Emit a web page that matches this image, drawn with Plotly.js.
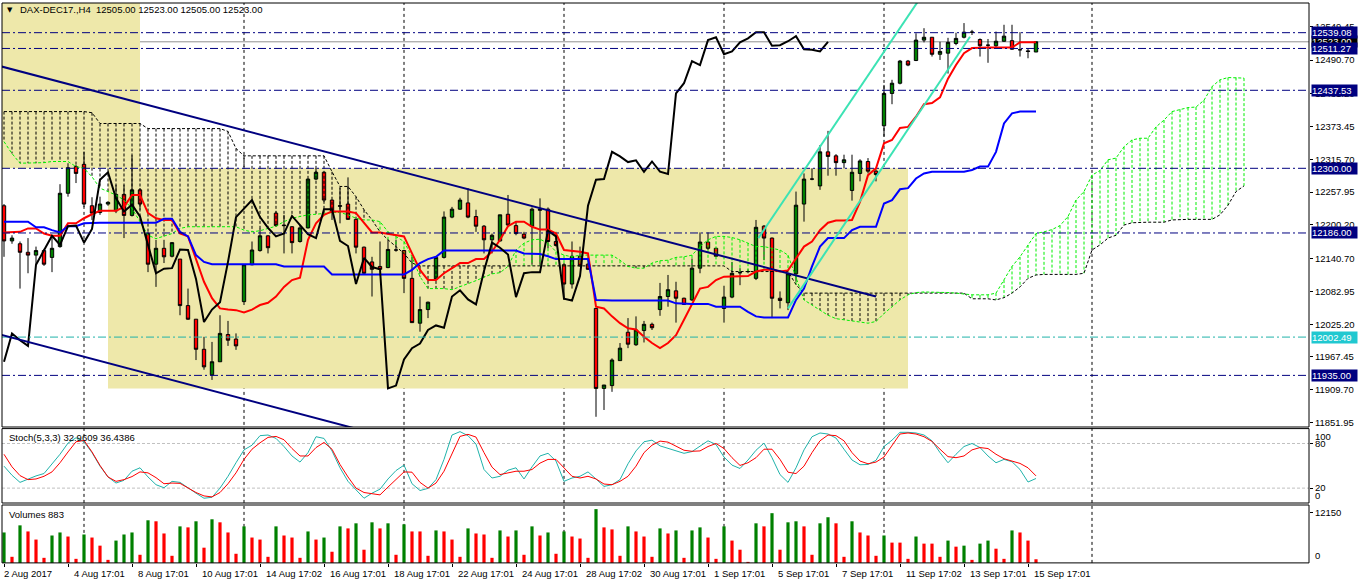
<!DOCTYPE html>
<html><head><meta charset="utf-8">
<script src="https://cdn.plot.ly/plotly-3.0.1.min.js"></script>
<style>html,body{margin:0;padding:0;background:#fff;overflow:hidden}#chart{width:1358px;height:584px}</style>
</head><body><div id="chart"></div>
<script>
// ---------- DATA ----------
const symbolTitle = "DAX-DEC17.,H4\u00a0\u00a012505.00 12523.00 12505.00 12523.00";
const stochTitle = "Stoch(5,3,3) 32.9609 36.4386";
const volumeTitle = "Volumes 883";

const opens = [12234,12172,12167,12152,12147,12155,12143,12162,12256,12303,
12307,12234,12222,12237,12225,12254,12217,12262,12185,12131,
12159,12145,12140,12058,12034,11981,11936,11959,12007,11999,
12065,12130,12155,12181,12221,12200,12197,12171,12195,12281,
12293,12244,12233,12237,12210,12161,12135,12127,12125,12156,
12155,12106,12027,12051,12105,12143,12214,12228,12239,12215,
12198,12174,12172,12219,12199,12184,12198,12226,12228,12171,
12130,12096,12145,12131,12053,11912,11917,11961,12011,11989,
12014,12025,12051,12074,12084,12071,12068,12124,12170,12159,
12053,12073,12116,12118,12106,12198,12177,12071,12063,12114,
12237,12281,12269,12329,12322,12310,12261,12291,12312,12295,
12375,12432,12450,12489,12490,12526,12531,12501,12503,12520,
12531,12540,12527,12517,12516,12524,12525,12509,12507,12505];
const highs = [12237,12182,12171,12177,12162,12158,12180,12272,12309,12306,
12329,12249,12250,12242,12271,12271,12323,12265,12188,12174,
12174,12170,12140,12088,12034,12003,11994,12041,12031,12009,
12130,12171,12194,12182,12224,12218,12198,12200,12282,12300,
12294,12245,12265,12284,12212,12162,12144,12171,12174,12174,
12156,12144,12074,12065,12144,12224,12232,12248,12265,12227,
12200,12185,12218,12253,12206,12188,12231,12247,12231,12188,
12133,12171,12162,12133,12053,11918,11965,11992,12036,12039,
12031,12028,12098,12112,12100,12072,12141,12187,12187,12160,
12093,12135,12124,12122,12209,12200,12178,12083,12116,12259,
12291,12300,12341,12366,12325,12324,12324,12316,12318,12298,
12447,12456,12491,12491,12538,12547,12531,12523,12530,12539,
12556,12544,12529,12528,12541,12553,12553,12540,12512,12523];
const lows = [12144,12167,12088,12115,12130,12128,12117,12160,12250,12274,
12232,12209,12218,12234,12221,12177,12215,12227,12117,12091,
12133,12143,12041,12033,11962,11945,11927,11959,11987,11980,
12059,12129,12153,12150,12197,12150,12150,12169,12194,12279,
12241,12209,12203,12209,12150,12114,12074,12121,12124,12153,
12080,12028,12012,12036,12103,12141,12212,12227,12212,12188,
12150,12150,12171,12197,12182,12175,12130,12130,12159,12162,
12068,12088,12127,12121,11862,11874,11906,11961,11983,11987,
11993,12015,12040,12056,12028,12059,12066,12115,12156,12144,
12028,12071,12094,12115,12103,12138,12036,12053,12050,12100,
12206,12279,12262,12287,12287,12300,12243,12277,12291,12277,
12356,12413,12448,12480,12489,12522,12497,12491,12467,12517,
12529,12535,12497,12486,12514,12523,12509,12497,12494,12505];
const closes = [12172,12177,12152,12147,12155,12131,12159,12256,12301,12291,
12237,12221,12237,12240,12254,12217,12262,12237,12131,12159,
12144,12169,12058,12034,11981,11950,11959,12009,11997,11987,
12130,12156,12181,12160,12199,12199,12169,12195,12281,12293,
12244,12222,12234,12210,12161,12115,12122,12122,12157,12156,
12106,12028,12051,12064,12143,12214,12228,12244,12214,12198,
12174,12182,12218,12200,12185,12177,12228,12228,12171,12164,
12096,12145,12128,12122,11912,11918,11962,11983,11990,12015,
12025,12019,12074,12086,12071,12060,12124,12170,12159,12145,
12073,12115,12116,12118,12196,12177,12071,12067,12114,12235,
12281,12281,12329,12321,12310,12315,12293,12313,12295,12289,
12432,12450,12489,12482,12526,12531,12501,12506,12522,12529,
12540,12540,12516,12517,12524,12533,12510,12509,12506,12523];

const tenkan = [12187,12188,12188,12194,12194,12185,12181,12181,12203,12203,
12212,12219,12225,12225,12225,12232,12253,12253,12221,12212,
12209,12209,12185,12180,12138,12100,12071,12053,12051,12050,
12046,12051,12059,12063,12074,12091,12103,12107,12174,12203,
12218,12224,12224,12224,12221,12203,12187,12187,12185,12182,
12180,12150,12121,12103,12103,12115,12124,12133,12133,12140,
12140,12153,12174,12198,12206,12206,12197,12192,12192,12185,
12156,12155,12153,12150,12056,12053,12039,12027,12018,12016,
12003,11992,11983,11992,12006,12033,12062,12088,12091,12103,
12109,12109,12109,12110,12118,12121,12121,12118,12120,12141,
12162,12171,12191,12204,12208,12208,12209,12241,12288,12300,
12344,12350,12371,12373,12391,12413,12415,12425,12458,12482,
12503,12512,12513,12513,12513,12513,12513,12522,12522,12522];
const kijun = [12206,12206,12206,12206,12196,12196,12191,12187,12198,12198,
12203,12204,12204,12204,12204,12204,12204,12204,12204,12204,
12211,12211,12188,12180,12147,12135,12131,12131,12131,12131,
12131,12131,12131,12131,12131,12127,12127,12127,12127,12127,
12127,12113,12113,12113,12113,12113,12113,12113,12113,12113,
12113,12121,12133,12140,12144,12155,12155,12155,12155,12155,
12155,12155,12155,12155,12155,12150,12149,12149,12145,12140,
12140,12140,12140,12140,12068,12067,12067,12067,12067,12067,
12067,12067,12067,12067,12062,12061,12061,12061,12061,12056,
12056,12056,12056,12047,12039,12037,12037,12037,12037,12068,
12088,12127,12162,12177,12177,12177,12191,12197,12197,12197,
12238,12244,12263,12265,12282,12291,12294,12294,12294,12294,
12294,12297,12303,12303,12329,12379,12397,12400,12400,12400];
const chikou = [11959,12009,11997,11987,12130,12156,12181,12165,12198,12199,
12169,12193,12280,12293,12247,12224,12236,12215,12167,12115,
12123,12124,12157,12156,12105,12029,12051,12064,12135,12214,
12229,12244,12214,12195,12180,12185,12216,12199,12184,12177,
12228,12228,12172,12163,12096,12142,12126,12122,11912,11917,
11963,11983,11991,12015,12023,12019,12074,12085,12069,12060,
12119,12169,12160,12148,12073,12115,12117,12117,12190,12180,
12070,12067,12110,12234,12280,12281,12329,12321,12311,12314,
12294,12312,12294,12290,12432,12450,12489,12482,12526,12531,
12501,12506,12522,12529,12540,12540,12516,12517,12524,12533,
12510,12509,12506,12523];
const senkouA = [12347,12326,12309,12309,12309,12310,12312,12312,12312,12303,
12300,12285,12265,12259,12253,12244,12229,12206,12182,12176,
12180,12185,12194,12197,12197,12197,12197,12197,12197,12197,
12191,12188,12190,12194,12198,12206,12212,12215,12218,12219,
12221,12222,12222,12218,12212,12209,12209,12206,12188,12180,
12171,12144,12109,12088,12088,12088,12086,12091,12097,12102,
12108,12114,12116,12127,12156,12168,12174,12175,12168,12153,
12147,12144,12147,12147,12147,12147,12147,12138,12127,12124,
12124,12133,12137,12138,12143,12144,12147,12162,12174,12180,
12180,12178,12174,12168,12162,12162,12159,12156,12147,12109,
12068,12059,12050,12041,12035,12033,12031,12030,12027,12030,
12044,12056,12068,12077,12081,12082,12082,12082,12081,12080,
12078,12077,12077,12077,12080,12103,12127,12144,12165,12185,
12188,12192,12199,12215,12244,12259,12288,12296,12315,12318,
12338,12350,12353,12353,12373,12385,12400,12404,12407,12408,
12420,12444,12456,12460,12460,12459];
const senkouB = [12400,12400,12400,12400,12400,12400,12400,12400,12400,12400,
12400,12398,12379,12379,12379,12379,12379,12379,12370,12370,
12370,12370,12370,12370,12370,12370,12370,12370,12365,12335,
12322,12322,12322,12322,12322,12322,12322,12322,12322,12322,
12322,12294,12268,12268,12250,12227,12209,12188,12174,12162,
12150,12133,12128,12128,12128,12128,12128,12128,12128,12128,
12128,12128,12128,12128,12128,12128,12128,12128,12128,12128,
12128,12128,12128,12128,12128,12128,12128,12128,12128,12128,
12128,12128,12128,12128,12128,12128,12128,12128,12128,12128,
12128,12118,12118,12118,12118,12118,12118,12118,12118,12095,
12080,12080,12080,12080,12080,12080,12080,12080,12080,12080,
12080,12080,12080,12080,12080,12080,12080,12080,12080,12080,
12080,12070,12070,12070,12068,12072,12080,12091,12106,12112,
12113,12113,12113,12113,12113,12115,12156,12165,12177,12182,
12200,12204,12205,12205,12205,12205,12209,12210,12210,12210,
12210,12210,12218,12235,12259,12269];

const stochK = [49.5,37.3,27.7,32.3,36.4,39.6,51.8,65.5,80.5,87.7,
82.3,67.7,49.5,35.0,26.8,30.5,42.7,47.3,35.0,24.6,
20.5,29.1,27.7,20.0,13.2,6.4,7.7,20.0,35.9,54.1,
71.4,77.7,90.5,91.4,86.8,75.9,63.2,55.0,67.7,89.1,
86.8,70.0,47.3,29.1,17.7,6.4,13.2,18.6,32.3,43.6,
50.9,25.9,16.8,19.6,31.4,58.6,91.4,95.9,90.5,79.1,
45.0,33.6,35.9,44.1,47.3,32.3,48.6,63.2,66.8,56.4,
29.1,33.6,35.9,41.8,32.3,22.3,24.6,31.4,52.7,70.0,
82.3,84.5,76.8,73.2,70.0,66.8,69.1,76.8,83.6,78.6,
61.8,50.9,46.4,57.8,70.9,80.5,60.9,38.2,27.7,47.3,
71.4,89.1,94.1,92.7,87.3,72.3,57.8,51.4,51.8,57.3,
75.9,84.5,95.0,95.0,94.1,91.4,83.6,67.7,54.1,65.5,
75.9,80.0,74.5,63.2,54.1,58.6,55.5,45.0,28.2,32.96];
const stochD = [65.5,48.6,36.8,31.4,32.3,35.9,41.8,54.1,68.6,82.3,
84.1,68.6,50.5,35.0,29.1,31.4,35.5,41.8,40.5,34.1,
25.9,26.8,26.4,20.0,14.1,9.5,8.2,14.1,25.9,40.5,
58.6,72.3,80.9,88.2,89.5,85.0,73.2,63.2,63.2,74.5,
81.4,72.3,51.8,35.0,20.0,14.1,12.3,10.9,21.4,31.4,
41.8,41.4,27.7,20.0,26.8,42.7,65.5,89.5,92.3,88.6,
67.7,48.2,38.2,40.5,42.7,42.7,45.0,53.6,58.6,58.6,
47.3,35.9,33.6,35.9,32.3,25.5,24.6,29.1,35.9,49.5,
67.7,77.7,83.2,81.8,76.4,70.9,69.5,70.0,75.9,80.0,
73.2,60.9,50.5,54.1,60.9,72.3,72.3,58.6,41.4,39.6,
49.5,67.7,83.6,91.4,90.5,83.6,67.7,56.4,52.7,55.0,
61.8,76.8,92.7,94.1,92.7,89.1,82.7,72.3,62.3,60.9,
63.2,71.4,74.5,73.2,65.5,59.5,56.4,53.2,47.3,36.44];
const stochLevels = [20, 80];

const volumes = [7368,1474,9088,7614,5649,1228,6631,7368,6386,982,
6877,6140,4175,737,5403,6877,7368,1965,10316,10070,
7123,1719,8842,8596,10070,3684,10561,9824,7368,2210,
8842,6140,5649,1474,8842,6631,6140,1228,7614,5649,
6140,2702,8842,8351,9579,3193,9824,8351,9579,1965,
9333,7614,7614,1719,7860,7614,5649,1474,8351,7123,
6877,1228,7860,6386,7860,1965,8842,6631,7368,2210,
7614,6386,5895,1228,13017,8596,8105,1719,8842,7614,
6386,1474,8351,7123,7860,1228,7860,8596,6140,982,
8842,5403,3193,246,9579,8842,12035,3193,9824,10070,
8842,1965,9579,11052,9579,1474,10070,7368,6631,1719,
6631,4912,4912,982,6386,4667,4667,1474,5403,3930,
4175,737,4667,5403,3439,982,7860,7368,5403,883];

const dateLabels = ["2 Aug 2017","4 Aug 17:01","8 Aug 17:01","10 Aug 17:01","14 Aug 17:02","16 Aug 17:01","18 Aug 17:01","22 Aug 17:01","24 Aug 17:01","28 Aug 17:02","30 Aug 17:01","1 Sep 17:01","5 Sep 17:01","7 Sep 17:01","11 Sep 17:02","13 Sep 17:01","15 Sep 17:01"];
const dateLabelBars = [0,8,16,24,32,40,48,56,64,72,80,88,96,104,112,120,128];
const gridBars = [10,30,50,70,90,110,136];

const priceTicks = [12549.45,12490.70,12431.20,12373.45,12315.70,12257.95,12200.20,12140.70,12082.95,12025.20,11967.45,11909.70,11851.95];
const levelLines = [12539.08,12511.27,12437.53,12300.00,12186.00,11935.00];
const cyanLevel = 12002.49;
const bidPrice = 12523.00;

// drawn objects (time in bar index, price)
const zoneRects = [{bars:[-1,17], prices:[12300,12620]}, {bars:[13,113], prices:[11912,12300]}];
const navyTrends = [{bars:[-1,109], prices:[12482,12074]}, {bars:[-1,44], prices:[12009,11841]}];
const aquaTrends = [{bars:[94.3,115], prices:[12177,12610]}, {bars:[98.0,120.75], prices:[12053,12532]}];

// ---------- LAYOUT HELPERS ----------
const W = 1358, H = 584;
const px = v => v / W, py = v => 1 - v / H;
const LEFT = 2, RIGHT = 1309;
const MAIN = [3, 427], STO = [428.6, 503], VOL = [505, 562.9];
const FONT = "Liberation Sans, Arial, sans-serif";
const FS = 9.5;
const NAVY = "#000080", AQUA = "#3ce3b4", LIME = "#00f000";

const barIdx = opens.map((_, i) => i);
const cloudIdx = senkouA.map((_, i) => i);

// cloud hatch
const hgx = [], hgy = [], hbx = [], hby = [];
senkouA.forEach((a, i) => {
  const b = senkouB[i];
  if (a >= b) { hgx.push(i, i, null); hgy.push(a, b, null); }
  else { hbx.push(i, i, null); hby.push(b, a, null); }
});
const DOT = "3px,2px";
const volColors = volumes.map((v, i) => (i === 0 || v > volumes[i - 1]) ? "#008000" : "#FF0000");

const traces = [
  {type:"scatter", mode:"lines", x:hbx, y:hby, line:{color:"#000", width:1, dash:DOT}, hoverinfo:"skip", connectgaps:false},
  {type:"scatter", mode:"lines", x:hgx, y:hgy, line:{color:LIME, width:1, dash:DOT}, hoverinfo:"skip", connectgaps:false},
  {type:"scatter", mode:"lines", x:cloudIdx, y:senkouB, line:{color:"#000", width:1, dash:DOT}, hoverinfo:"skip"},
  {type:"scatter", mode:"lines", x:cloudIdx, y:senkouA, line:{color:LIME, width:1, dash:DOT}, hoverinfo:"skip"},
  {type:"candlestick", x:barIdx, open:opens, high:highs, low:lows, close:closes, whiskerwidth:0,
   increasing:{line:{color:"#000", width:1}, fillcolor:"#008000"},
   decreasing:{line:{color:"#000", width:1}, fillcolor:"#FF0000"}, hoverinfo:"skip"},
  {type:"scatter", mode:"lines", x:barIdx, y:tenkan, line:{color:"#FF0000", width:2}, hoverinfo:"skip"},
  {type:"scatter", mode:"lines", x:barIdx, y:kijun, line:{color:"#0000FF", width:2}, hoverinfo:"skip"},
  {type:"scatter", mode:"lines", x:chikou.map((_, i) => i), y:chikou, line:{color:"#000", width:2}, hoverinfo:"skip"},
  {type:"scatter", mode:"lines", x:barIdx, y:stochK, yaxis:"y2", line:{color:"#20B2AA", width:1}, hoverinfo:"skip"},
  {type:"scatter", mode:"lines", x:barIdx, y:stochD, yaxis:"y2", line:{color:"#FF0000", width:1}, hoverinfo:"skip"},
  {type:"bar", x:barIdx, y:volumes, yaxis:"y3", width:0.4, marker:{color:volColors, line:{width:0}}, hoverinfo:"skip"}
];

const shapes = [];
zoneRects.forEach(r => shapes.push({type:"rect", xref:"x", yref:"y", x0:r.bars[0], x1:r.bars[1], y0:r.prices[0], y1:r.prices[1], fillcolor:"#EEE8AA", line:{width:0}, layer:"below"}));
gridBars.forEach(b => shapes.push({type:"line", xref:"x", yref:"paper", x0:b, x1:b, y0:py(VOL[1]), y1:py(MAIN[0]), line:{color:"#000", width:1, dash:"3px,3px"}, layer:"below"}));
stochLevels.forEach(l => shapes.push({type:"line", xref:"paper", yref:"y2", x0:px(LEFT), x1:px(RIGHT), y0:l, y1:l, line:{color:"#c0c0c0", width:1, dash:"3px,2px"}, layer:"below"}));
shapes.push({type:"line", xref:"paper", yref:"y", x0:px(LEFT), x1:px(RIGHT), y0:bidPrice, y1:bidPrice, line:{color:"#909090", width:1}, layer:"below"});
levelLines.forEach(l => shapes.push({type:"line", xref:"paper", yref:"y", x0:px(LEFT), x1:px(RIGHT), y0:l, y1:l, line:{color:NAVY, width:1, dash:"8px,3px,2px,3px"}}));
shapes.push({type:"line", xref:"paper", yref:"y", x0:px(LEFT), x1:px(RIGHT), y0:cyanLevel, y1:cyanLevel, line:{color:"#20B2AA", width:1, dash:"8px,3px,2px,3px"}});
navyTrends.forEach(t => shapes.push({type:"line", xref:"x", yref:"y", x0:t.bars[0], x1:t.bars[1], y0:t.prices[0], y1:t.prices[1], line:{color:NAVY, width:2}}));
aquaTrends.forEach(t => shapes.push({type:"line", xref:"x", yref:"y", x0:t.bars[0], x1:t.bars[1], y0:t.prices[0], y1:t.prices[1], line:{color:AQUA, width:2}}));
[MAIN, STO, VOL].forEach(p => shapes.push({type:"rect", xref:"paper", yref:"paper", x0:px(LEFT), x1:px(RIGHT), y0:py(p[1]), y1:py(p[0]), line:{color:"#000", width:1}, fillcolor:"rgba(0,0,0,0)"}));

const ann = [];
const txt = (x, y, text, extra) => Object.assign({xref:"paper", yref:"paper", x:px(x), y:py(y), text, showarrow:false, xanchor:"left", yanchor:"middle", font:{family:FONT, size:FS, color:"#000"}}, extra || {});
ann.push(txt(5, 10, "\u25BC", {font:{family:"DejaVu Sans", size:7, color:"#000"}}));
ann.push(txt(18, 10, symbolTitle));
ann.push(txt(7, 437, stochTitle));
ann.push(txt(7, 514, volumeTitle));
dateLabels.forEach((l, k) => ann.push({xref:"x", yref:"paper", x:dateLabelBars[k], y:py(573), text:l, showarrow:false, xanchor:"left", yanchor:"middle", xshift:(k === 0 ? -2 : 4), font:{family:FONT, size:FS, color:"#000"}}));
const box = (v, text, bg) => ({xref:"paper", yref:"y", x:px(1311), y:v, text, showarrow:false, xanchor:"left", yanchor:"middle", bgcolor:bg, borderpad:0, width:45, height:11, align:"left", font:{family:FONT, size:FS, color:"#fff"}});
ann.push(box(bidPrice, bidPrice.toFixed(2), "#000"));
levelLines.forEach(l => ann.push(box(l, l.toFixed(2), NAVY)));
ann.push(box(cyanLevel, cyanLevel.toFixed(2), "#20c8d0"));
ann.push({xref:"paper", yref:"y2", x:px(1313), y:100, text:"100", showarrow:false, xanchor:"left", yanchor:"top", font:{family:FONT, size:FS, color:"#000"}});
ann.push({xref:"paper", yref:"y2", x:px(1313), y:0, text:"0", showarrow:false, xanchor:"left", yanchor:"bottom", font:{family:FONT, size:FS, color:"#000"}});
ann.push({xref:"paper", yref:"y3", x:px(1313), y:0, text:"0", showarrow:false, xanchor:"left", yanchor:"bottom", font:{family:FONT, size:FS, color:"#000"}});

const yCommon = {side:"right", anchor:"x", showgrid:false, zeroline:false, showline:false, ticks:"outside", ticklen:3, tickwidth:1, tickcolor:"#000", tickfont:{family:FONT, size:FS, color:"#000"}, fixedrange:true};
const layout = {
  width:W, height:H, margin:{l:0, r:0, t:0, b:0, pad:0},
  paper_bgcolor:"#fff", plot_bgcolor:"#fff", showlegend:false, hovermode:false,
  xaxis:{domain:[px(LEFT), px(RIGHT)], range:[-0.25, 163.125], anchor:"y3", showgrid:false, zeroline:false, showline:false,
         ticks:"outside", ticklen:3, tickcolor:"#000", tickvals:dateLabelBars, showticklabels:false, rangeslider:{visible:false}, fixedrange:true},
  yaxis:Object.assign({}, yCommon, {domain:[py(MAIN[1]), py(MAIN[0])], range:[11844, 12591.4], tickvals:priceTicks, ticktext:priceTicks.map(v => v.toFixed(2))}),
  yaxis2:Object.assign({}, yCommon, {domain:[py(STO[1]), py(STO[0])], range:[0, 100], tickvals:stochLevels, ticktext:stochLevels.map(String)}),
  yaxis3:Object.assign({}, yCommon, {domain:[py(VOL[1]), py(VOL[0])], range:[0, 14014], tickvals:[12150], ticktext:["12150"]}),
  boxgap:0.4,
  shapes, annotations:ann
};
Plotly.newPlot("chart", traces, layout, {staticPlot:true, displayModeBar:false});
</script></body></html>
